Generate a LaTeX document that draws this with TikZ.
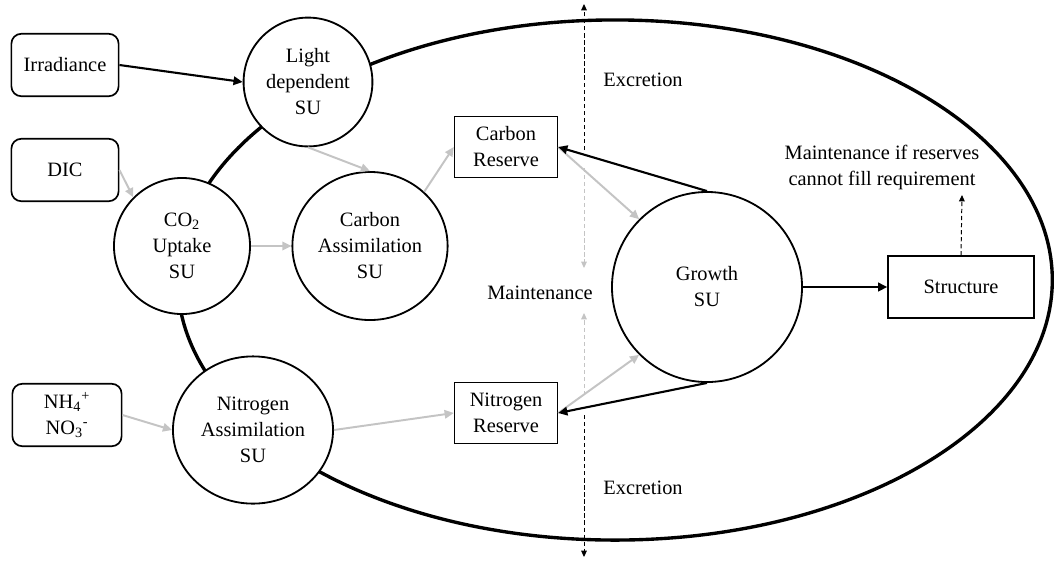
\documentclass[tikz,border=0pt]{standalone}
\usepackage{fontspec}
\setmainfont{Liberation Serif}
\usetikzlibrary{arrows.meta, shapes.geometric}
\definecolor{FlowGray}{HTML}{C4C4C4}

\begin{document}
\begin{tikzpicture}[
  x=0.025cm, y=-0.025cm,
  input/.style={rectangle, draw, line width=1.2pt, rounded corners=7pt, fill=white,
    minimum width=2.68cm, minimum height=1.56cm, inner sep=0pt, align=center},
  pool/.style={rectangle, draw, line width=0.9pt, fill=white,
    minimum width=2.58cm, minimum height=1.53cm, inner sep=0pt, align=center},
  unit/.style={circle, draw, line width=1.3pt, fill=white, inner sep=0pt, align=center},
  flow/.style={->, line width=1.4pt, FlowGray},
  feed/.style={->, line width=1.5pt},
  loss/.style={-{Triangle[length=4.5pt, width=4pt]}, line width=0.7pt, dash pattern=on 3pt off 2pt},
  >={Triangle[length=6.5pt, width=6pt]},
  font=\fontsize{14.5}{18.5}\selectfont
]
  \useasboundingbox (0,0) rectangle (1054,562);
  \draw[line width=2.4pt] (615,280) ellipse [x radius=10.93cm, y radius=6.5cm];

  \node[input] (irr) at (65,65) {Irradiance};
  \node[input] (dic) at (65,170) {DIC};
  \node[input, minimum width=2.73cm] (nut) at (67,415)
    {NH\textsubscript{4}\textsuperscript{+}\\NO\textsubscript{3}\textsuperscript{-}};

  \node[unit, minimum size=3.22cm] (light) at (308,82) {Light\\dependent\\SU};
  \node[unit, minimum size=3.4cm] (co2) at (182,246) {CO\textsubscript{2}\\Uptake\\SU};
  \node[unit, ellipse, minimum width=3.88cm, minimum height=3.7cm] (cass) at (370,246)
    {Carbon\\Assimilation\\SU};
  \node[unit, ellipse, minimum width=4cm, minimum height=3.68cm] (nass) at (253,430)
    {Nitrogen\\Assimilation\\SU};
  \node[pool] (cres) at (506,147) {Carbon\\Reserve};
  \node[pool] (nres) at (506,413) {Nitrogen\\Reserve};
  \node[unit, minimum size=4.75cm] (grow) at (707,287) {Growth\\SU};
  \node[pool, minimum width=3.65cm, minimum height=1.55cm] (struct) at (961,287) {Structure};

  \node (exup) at (643,80) {Excretion};
  \node (exdn) at (643,488) {Excretion};
  \node (maint) at (540,293) {Maintenance};
  \node[align=center] (smaint) at (882,167) {Maintenance if reserves\\cannot fill requirement};

  \coordinate (ctop) at (584,4);
  \coordinate (cup) at (584,150);
  \coordinate (cmid) at (584,168);
  \coordinate (mtop) at (584,268);
  \coordinate (mbot) at (584,313);
  \coordinate (nmid) at (584,395);
  \coordinate (nlow) at (584,415);
  \coordinate (cbot) at (584,557);
  \coordinate (sup) at (962,195);

  \draw[feed] (irr.east) -- (light.west);
  \draw[flow] (dic.east) -- (co2.north west);
  \draw[flow] (light.south) -- (cass.north);
  \draw[flow] (co2.east) -- (cass.west);
  \draw[flow] (cass.45) -- (cres.west);
  \draw[flow] (nut.east) -- (nass.west);
  \draw[flow] (nass.east) -- (nres.west);
  \draw[flow] (cres.east) -- (grow.135);
  \draw[flow] (nres.east) -- (grow.225);
  \draw[feed] (grow.north) -- (cres.east);
  \draw[feed] (grow.south) -- (nres.east);
  \draw[feed] (grow.east) -- (struct.west);

  \draw[loss] (cup) -- (ctop);
  \draw[loss, FlowGray] (cmid) -- (mtop);
  \draw[loss, FlowGray] (nmid) -- (mbot);
  \draw[loss] (nlow) -- (cbot);
  \draw[loss] (struct.north) -- (sup);
\end{tikzpicture}
\end{document}
